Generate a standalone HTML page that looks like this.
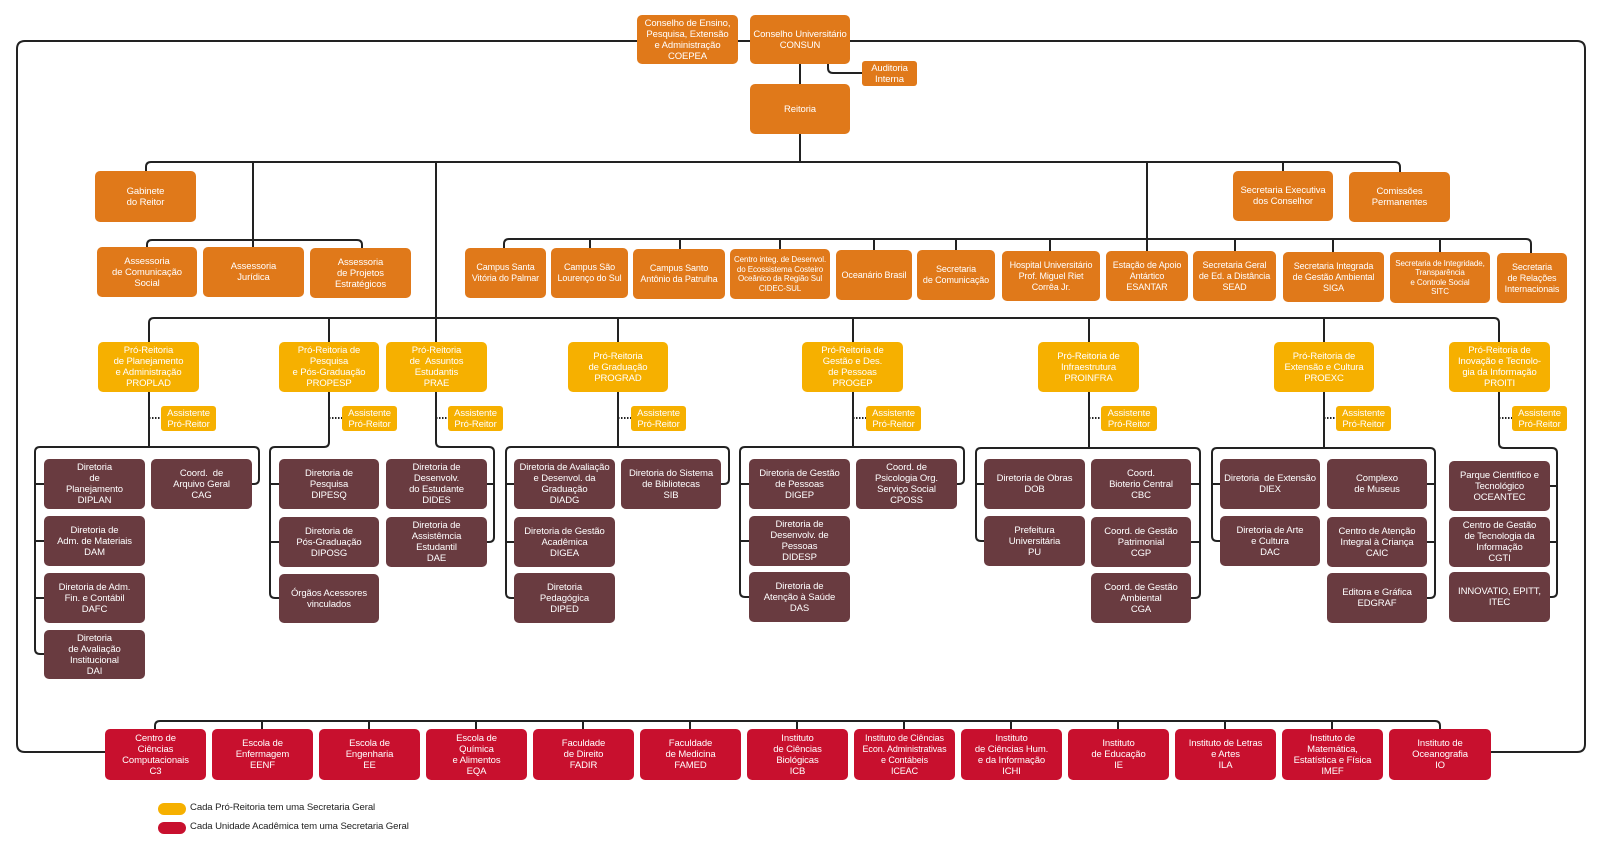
<!DOCTYPE html>
<html><head><meta charset="utf-8"><style>
html,body{margin:0;padding:0;background:#fff;}
#c{position:relative;width:1600px;height:854px;overflow:hidden;background:#fff;font-family:"Liberation Sans",Arial,sans-serif;}
svg{position:absolute;left:0;top:0;}
.b{position:absolute;display:flex;align-items:center;justify-content:center;text-align:center;color:#fff;border-radius:5px;font-size:9.5px;line-height:11px;white-space:nowrap;letter-spacing:-0.1px;}
.o{background:#E0791A;}
.y{background:#F6B000;}
.m{background:#693B40;}
.r{background:#C8102E;}
.s{font-size:8px;line-height:9.5px;}
.c9{font-size:9px;}
.lg{position:absolute;font-size:9.6px;color:#222;letter-spacing:-0.1px;}
.pill{position:absolute;width:28px;height:12px;border-radius:6px;}
</style></head><body><div id="c">
<svg width="1600" height="854" viewBox="0 0 1600 854">
<g fill="none" stroke="#222" stroke-width="2">
<path d="M105 752 H25 Q17 752 17 744 V49 Q17 41 25 41 H1577 Q1585 41 1585 49 V744 Q1585 752 1577 752 H1491"/>
<path d="M800 64 V84"/>
<path d="M828 64 V68 Q828 73 833 73 H862"/>
<path d="M800 134 V162"/>
<path d="M146 171 V167 Q146 162 151 162 H1395 Q1400 162 1400 167 V172"/>
<path d="M253 162 V247"/>
<path d="M147 247 V245 Q147 240 152 240 H357 Q362 240 362 245 V248"/>
<path d="M1283 162 V171"/>
<path d="M436 162 V342"/>
<path d="M1147 162 V251"/>
<path d="M504 248 V244 Q504 239 509 239 H1526 Q1531 239 1531 244 V253"/>
<path d="M590 239 V248 M680 239 V249 M780 239 V249 M874 239 V250 M956 239 V250 M1050 239 V251 M1235 239 V251 M1333 239 V252 M1440 239 V252"/>
<path d="M149 342 V323 Q149 318 154 318 H1494 Q1499 318 1499 323 V342"/>
<path d="M329 318 V342 M618 318 V342 M853 318 V342 M1089 318 V342 M1324 318 V342"/>
<path d="M149 392 V447"/>
<path d="M44 654 H40 Q35 654 35 649 V452 Q35 447 40 447 H254 Q259 447 259 452 V479 Q259 484 254 484 H252"/>
<path d="M35 484 H44 M35 541 H44 M35 598 H44"/>
<path d="M329 392 V442 Q329 447 324 447 H275 Q270 447 270 452 V593 Q270 598 275 598 H279"/>
<path d="M270 484 H279 M270 542 H279"/>
<path d="M436 392 V442 Q436 447 441 447 H489 Q494 447 494 452 V537 Q494 542 489 542 H487"/>
<path d="M487 484 H494"/>
<path d="M618 392 V447"/>
<path d="M514 598 H511 Q506 598 506 593 V452 Q506 447 511 447 H724 Q729 447 729 452 V479 Q729 484 724 484 H721"/>
<path d="M506 484 H514 M506 542 H514"/>
<path d="M853 392 V447"/>
<path d="M749 597 H745 Q740 597 740 592 V452 Q740 447 745 447 H959 Q964 447 964 452 V479 Q964 484 959 484 H957"/>
<path d="M740 484 H749 M740 541 H749"/>
<path d="M1089 392 V448"/>
<path d="M984 541 H981 Q976 541 976 536 V453 Q976 448 981 448 H1195 Q1200 448 1200 453 V593 Q1200 598 1195 598 H1191"/>
<path d="M976 484 H984 M1191 484 H1200 M1191 542 H1200"/>
<path d="M1324 392 V448"/>
<path d="M1220 541 H1217 Q1212 541 1212 536 V453 Q1212 448 1217 448 H1430 Q1435 448 1435 453 V593 Q1435 598 1430 598 H1427"/>
<path d="M1212 484 H1220 M1427 484 H1435 M1427 542 H1435"/>
<path d="M1499 392 V443 Q1499 448 1504 448 H1552 Q1557 448 1557 453 V592 Q1557 597 1552 597 H1550"/>
<path d="M1550 486 H1557 M1550 542 H1557"/>
<path d="M155 729 V726 Q155 721 160 721 H1435 Q1440 721 1440 726 V729"/>
<path d="M262 721 V729 M369 721 V729 M476 721 V729 M583 721 V729 M690 721 V729 M797 721 V729 M904 721 V729 M1011 721 V729 M1118 721 V729 M1225 721 V729 M1332 721 V729"/>
</g>
<g fill="none" stroke="#222" stroke-width="2" stroke-dasharray="1.5 1.5">
<path d="M149 418 H161 M329 418 H342 M436 418 H448 M618 418 H631 M853 418 H866 M1089 418 H1101 M1324 418 H1336 M1499 418 H1512"/>
</g>
</svg>

<div class="b o" style="left:637px;top:15px;width:101px;height:49px;">Conselho de Ensino,<br>Pesquisa, Extensão<br>e Administração<br>COEPEA</div>
<div class="b o" style="left:750px;top:15px;width:100px;height:49px;">Conselho Universitário<br>CONSUN</div>
<div class="b o" style="left:862px;top:61px;width:55px;height:25px;border-radius:3px;">Auditoria<br>Interna</div>
<div class="b o" style="left:750px;top:84px;width:100px;height:50px;">Reitoria</div>

<div class="b o" style="left:95px;top:171px;width:101px;height:51px;">Gabinete<br>do Reitor</div>
<div class="b o" style="left:97px;top:247px;width:100px;height:50px;">Assessoria<br>de Comunicação<br>Social</div>
<div class="b o" style="left:203px;top:247px;width:101px;height:50px;">Assessoria<br>Jurídica</div>
<div class="b o" style="left:310px;top:248px;width:101px;height:50px;">Assessoria<br>de Projetos<br>Estratégicos</div>
<div class="b o" style="left:1233px;top:171px;width:100px;height:50px;">Secretaria Executiva<br>dos Conselhor</div>
<div class="b o" style="left:1349px;top:172px;width:101px;height:50px;">Comissões<br>Permanentes</div>

<div class="b o c9" style="left:465px;top:248px;width:81px;height:50px;">Campus Santa<br>Vitória do Palmar</div>
<div class="b o c9" style="left:551px;top:248px;width:77px;height:50px;">Campus São<br>Lourenço do Sul</div>
<div class="b o c9" style="left:633px;top:249px;width:92px;height:50px;">Campus Santo<br>Antônio da Patrulha</div>
<div class="b o s" style="left:730px;top:249px;width:100px;height:50px;">Centro integ. de Desenvol.<br>do Ecossistema Costeiro<br>Oceânico da Região Sul<br>CIDEC-SUL</div>
<div class="b o c9" style="left:836px;top:250px;width:76px;height:50px;">Oceanário Brasil</div>
<div class="b o c9" style="left:917px;top:250px;width:78px;height:50px;">Secretaria<br>de Comunicação</div>
<div class="b o c9" style="left:1002px;top:251px;width:98px;height:50px;">Hospital Universitário<br>Prof. Miguel Riet<br>Corrêa Jr.</div>
<div class="b o c9" style="left:1106px;top:251px;width:82px;height:50px;">Estação de Apoio<br>Antártico<br>ESANTAR</div>
<div class="b o c9" style="left:1193px;top:251px;width:83px;height:50px;">Secretaria Geral<br>de Ed. a Distância<br>SEAD</div>
<div class="b o c9" style="left:1283px;top:252px;width:101px;height:50px;">Secretaria Integrada<br>de Gestão Ambiental<br>SIGA</div>
<div class="b o s" style="left:1390px;top:252px;width:100px;height:51px;">Secretaria de Integridade,<br>Transparência<br>e Controle Social<br>SITC</div>
<div class="b o c9" style="left:1497px;top:253px;width:70px;height:50px;">Secretaria<br>de Relações<br>Internacionais</div>

<div class="b y" style="left:98px;top:342px;width:101px;height:50px;">Pró-Reitoria<br>de Planejamento<br>e Administração<br>PROPLAD</div>
<div class="b y" style="left:279px;top:342px;width:100px;height:50px;">Pró-Reitoria de<br>Pesquisa<br>e Pós-Graduação<br>PROPESP</div>
<div class="b y" style="left:386px;top:342px;width:101px;height:50px;">Pró-Reitoria<br>de &nbsp;Assuntos<br>Estudantis<br>PRAE</div>
<div class="b y" style="left:568px;top:342px;width:100px;height:50px;">Pró-Reitoria<br>de Graduação<br>PROGRAD</div>
<div class="b y" style="left:802px;top:342px;width:101px;height:50px;">Pró-Reitoria de<br>Gestão e Des.<br>de Pessoas<br>PROGEP</div>
<div class="b y" style="left:1038px;top:342px;width:101px;height:50px;">Pró-Reitoria de<br>Infraestrutura<br>PROINFRA</div>
<div class="b y" style="left:1274px;top:342px;width:100px;height:50px;">Pró-Reitoria de<br>Extensão e Cultura<br>PROEXC</div>
<div class="b y" style="left:1449px;top:342px;width:101px;height:50px;">Pró-Reitoria de<br>Inovação e Tecnolo-<br>gia da Informação<br>PROITI</div>

<div class="b y" style="left:161px;top:406px;width:55px;height:25px;border-radius:3px;">Assistente<br>Pró-Reitor</div>
<div class="b y" style="left:342px;top:406px;width:55px;height:25px;border-radius:3px;">Assistente<br>Pró-Reitor</div>
<div class="b y" style="left:448px;top:406px;width:55px;height:25px;border-radius:3px;">Assistente<br>Pró-Reitor</div>
<div class="b y" style="left:631px;top:406px;width:55px;height:25px;border-radius:3px;">Assistente<br>Pró-Reitor</div>
<div class="b y" style="left:866px;top:406px;width:55px;height:25px;border-radius:3px;">Assistente<br>Pró-Reitor</div>
<div class="b y" style="left:1101px;top:406px;width:56px;height:25px;border-radius:3px;">Assistente<br>Pró-Reitor</div>
<div class="b y" style="left:1336px;top:406px;width:55px;height:25px;border-radius:3px;">Assistente<br>Pró-Reitor</div>
<div class="b y" style="left:1512px;top:406px;width:55px;height:25px;border-radius:3px;">Assistente<br>Pró-Reitor</div>

<div class="b m" style="left:44px;top:459px;width:101px;height:50px;">Diretoria<br>de<br>Planejamento<br>DIPLAN</div>
<div class="b m" style="left:151px;top:459px;width:101px;height:50px;">Coord. &nbsp;de<br>Arquivo Geral<br>CAG</div>
<div class="b m" style="left:44px;top:516px;width:101px;height:50px;">Diretoria de<br>Adm. de Materiais<br>DAM</div>
<div class="b m" style="left:44px;top:573px;width:101px;height:50px;">Diretoria de Adm.<br>Fin. e Contábil<br>DAFC</div>
<div class="b m" style="left:44px;top:630px;width:101px;height:49px;">Diretoria<br>de Avaliação<br>Institucional<br>DAI</div>

<div class="b m" style="left:279px;top:459px;width:100px;height:50px;">Diretoria de<br>Pesquisa<br>DIPESQ</div>
<div class="b m" style="left:279px;top:517px;width:100px;height:50px;">Diretoria de<br>Pós-Graduação<br>DIPOSG</div>
<div class="b m" style="left:279px;top:574px;width:100px;height:49px;">Órgãos Acessores<br>vinculados</div>
<div class="b m" style="left:386px;top:459px;width:101px;height:50px;">Diretoria de<br>Desenvolv.<br>do Estudante<br>DIDES</div>
<div class="b m" style="left:386px;top:517px;width:101px;height:50px;">Diretoria de<br>Assistêmcia<br>Estudantil<br>DAE</div>

<div class="b m" style="left:514px;top:459px;width:101px;height:50px;">Diretoria de Avaliação<br>e Desenvol. da<br>Graduação<br>DIADG</div>
<div class="b m" style="left:621px;top:459px;width:100px;height:50px;">Diretoria do Sistema<br>de Bibliotecas<br>SIB</div>
<div class="b m" style="left:514px;top:517px;width:101px;height:50px;">Diretoria de Gestão<br>Acadêmica<br>DIGEA</div>
<div class="b m" style="left:514px;top:573px;width:101px;height:50px;">Diretoria<br>Pedagógica<br>DIPED</div>

<div class="b m" style="left:749px;top:459px;width:101px;height:50px;">Diretoria de Gestão<br>de Pessoas<br>DIGEP</div>
<div class="b m" style="left:856px;top:459px;width:101px;height:50px;">Coord. de<br>Psicologia Org.<br>Serviço Social<br>CPOSS</div>
<div class="b m" style="left:749px;top:516px;width:101px;height:50px;">Diretoria de<br>Desenvolv. de<br>Pessoas<br>DIDESP</div>
<div class="b m" style="left:749px;top:572px;width:101px;height:50px;">Diretoria de<br>Atenção à Saúde<br>DAS</div>

<div class="b m" style="left:984px;top:459px;width:101px;height:50px;">Diretoria de Obras<br>DOB</div>
<div class="b m" style="left:1091px;top:459px;width:100px;height:50px;">Coord.<br>Bioterio Central<br>CBC</div>
<div class="b m" style="left:984px;top:516px;width:101px;height:50px;">Prefeitura<br>Universitária<br>PU</div>
<div class="b m" style="left:1091px;top:517px;width:100px;height:50px;">Coord. de Gestão<br>Patrimonial<br>CGP</div>
<div class="b m" style="left:1091px;top:573px;width:100px;height:50px;">Coord. de Gestão<br>Ambiental<br>CGA</div>

<div class="b m" style="left:1220px;top:459px;width:100px;height:50px;">Diretoria &nbsp;de Extensão<br>DIEX</div>
<div class="b m" style="left:1327px;top:459px;width:100px;height:50px;">Complexo<br>de Museus</div>
<div class="b m" style="left:1220px;top:516px;width:100px;height:50px;">Diretoria de Arte<br>e Cultura<br>DAC</div>
<div class="b m" style="left:1327px;top:517px;width:100px;height:50px;">Centro de Atenção<br>Integral à Criança<br>CAIC</div>
<div class="b m" style="left:1327px;top:573px;width:100px;height:50px;">Editora e Gráfica<br>EDGRAF</div>

<div class="b m" style="left:1449px;top:461px;width:101px;height:50px;">Parque Científico e<br>Tecnológico<br>OCEANTEC</div>
<div class="b m" style="left:1449px;top:517px;width:101px;height:50px;">Centro de Gestão<br>de Tecnologia da<br>Informação<br>CGTI</div>
<div class="b m" style="left:1449px;top:572px;width:101px;height:50px;">INNOVATIO, EPITT,<br>ITEC</div>

<div class="b r" style="left:105px;top:729px;width:101px;height:51px;">Centro de<br>Ciências<br>Computacionais<br>C3</div>
<div class="b r" style="left:212px;top:729px;width:101px;height:51px;">Escola de<br>Enfermagem<br>EENF</div>
<div class="b r" style="left:319px;top:729px;width:101px;height:51px;">Escola de<br>Engenharia<br>EE</div>
<div class="b r" style="left:426px;top:729px;width:101px;height:51px;">Escola de<br>Química<br>e Alimentos<br>EQA</div>
<div class="b r" style="left:533px;top:729px;width:101px;height:51px;">Faculdade<br>de Direito<br>FADIR</div>
<div class="b r" style="left:640px;top:729px;width:101px;height:51px;">Faculdade<br>de Medicina<br>FAMED</div>
<div class="b r" style="left:747px;top:729px;width:101px;height:51px;">Instituto<br>de Ciências<br>Biológicas<br>ICB</div>
<div class="b r c9" style="left:854px;top:729px;width:101px;height:51px;">Instituto de Ciências<br>Econ. Administrativas<br>e Contábeis<br>ICEAC</div>
<div class="b r" style="left:961px;top:729px;width:101px;height:51px;">Instituto<br>de Ciências Hum.<br>e da Informação<br>ICHI</div>
<div class="b r" style="left:1068px;top:729px;width:101px;height:51px;">Instituto<br>de Educação<br>IE</div>
<div class="b r" style="left:1175px;top:729px;width:101px;height:51px;">Instituto de Letras<br>e Artes<br>ILA</div>
<div class="b r" style="left:1282px;top:729px;width:101px;height:51px;">Instituto de<br>Matemática,<br>Estatística e Física<br>IMEF</div>
<div class="b r" style="left:1389px;top:729px;width:102px;height:51px;">Instituto de<br>Oceanografia<br>IO</div>

<div class="pill y" style="left:158px;top:803px;"></div>
<div class="lg" style="left:190px;top:802px;">Cada Pró-Reitoria tem uma Secretaria Geral</div>
<div class="pill r" style="left:158px;top:822px;"></div>
<div class="lg" style="left:190px;top:821px;">Cada Unidade Acadêmica tem uma Secretaria Geral</div>
</div></body></html>
